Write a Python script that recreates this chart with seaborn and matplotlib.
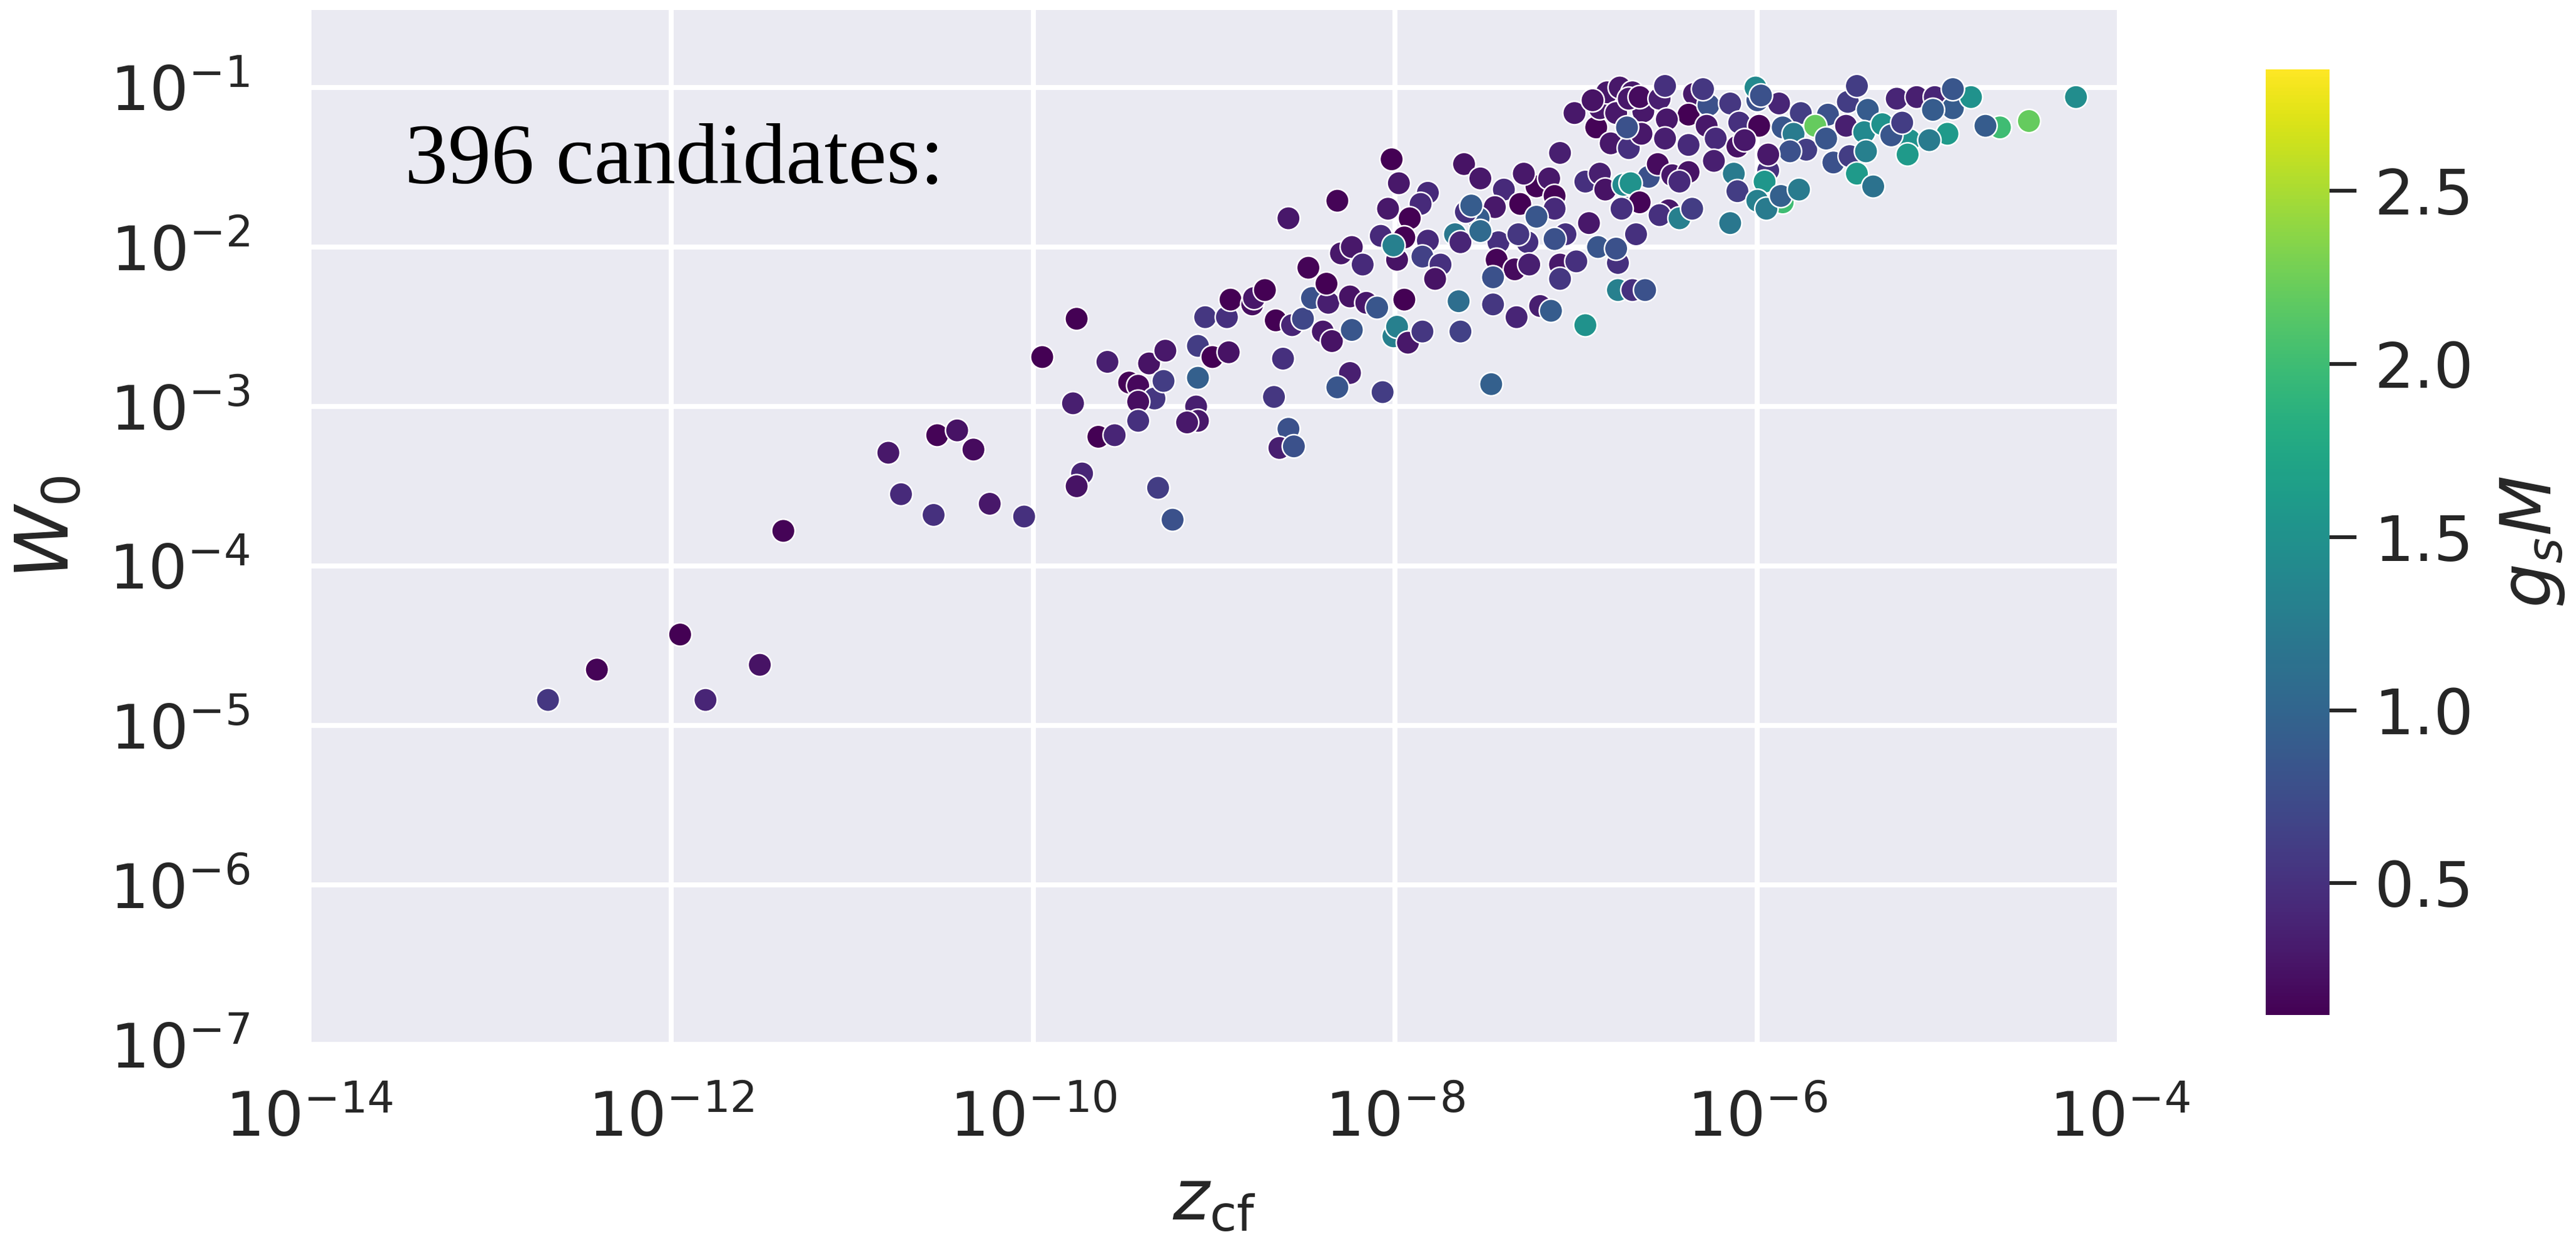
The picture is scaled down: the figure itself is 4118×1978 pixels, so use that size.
import numpy as np
import pandas as pd
import matplotlib
matplotlib.use("Agg")
import matplotlib.pyplot as plt
import seaborn as sns
from matplotlib.colors import Normalize
from matplotlib.cm import ScalarMappable
from matplotlib.ticker import NullLocator

# ---- data: log10(z_cf), log10(W0), g_s M ----
log_z = [
    -12.68, -12.41, -11.95, -11.81, -11.51, -11.38, -10.80, -10.53, -10.42, -10.33,
    -10.73, -10.55, -10.24, -10.05, -9.95, -9.76, -9.78, -9.73, -9.76, -9.59,
    -9.64, -9.55, -9.47, -9.42, -9.33, -9.42, -9.42, -9.36, -9.27, -9.28,
    -9.31, -9.23, -9.09, -9.01, -8.92, -9.09, -9.10, -9.09, -9.15, -9.05,
    -8.93, -8.67, -8.59, -8.62, -8.64, -8.56, -8.91, -8.79, -8.78, -8.72,
    -8.66, -8.57, -8.51, -8.46, -8.37, -8.38, -8.25, -8.16, -8.10, -7.95,
    -8.40, -8.35, -8.24, -8.01, -7.99, -7.93, -7.85, -8.25, -8.32, -8.07,
    -7.64, -7.65, -7.47, -7.46, -7.33, -7.20, -7.14, -6.95, -6.77, -8.59,
    -8.32, -8.02, -7.98, -8.04, -7.82, -7.86, -7.92, -7.95, -8.08, -8.30,
    -8.24, -8.18, -8.48, -7.99, -7.82, -7.85, -7.75, -7.78, -8.01, -7.62,
    -7.53, -7.40, -7.45, -7.54, -7.61, -7.67, -7.64, -7.31, -7.22, -7.15,
    -7.29, -7.12, -7.12, -7.22, -7.27, -7.43, -7.44, -7.34, -7.46, -7.26,
    -7.09, -7.09, -7.00, -7.06, -6.93, -6.88, -7.09, -7.01, -6.89, -6.87,
    -6.83, -6.81, -6.95, -6.87, -6.84, -6.77, -7.58, -7.53, -7.32, -7.12,
    -6.78, -6.74, -6.74, -6.76, -6.91, -6.69, -6.35, -6.63, -6.49,
    -6.71, -6.65, -6.54, -6.38, -6.27, -6.15, -6.00, -5.88, -5.76, -5.61,
    -5.50, -5.39, -6.71, -6.64, -6.72, -6.50, -6.51, -6.38, -6.28, -6.23,
    -6.10, -5.99, -6.11, -6.07, -5.94, -5.86, -5.80, -5.68, -5.73, -5.62,
    -5.51, -5.41, -5.58, -5.49, -5.40, -5.45, -5.36, -5.82, -5.94, -6.60,
    -6.55, -6.70, -6.47, -6.38, -6.43, -6.24, -6.13, -6.11, -5.96, -5.86,
    -6.00, -5.95, -5.87, -5.77, -6.65, -6.75, -6.54, -6.43, -6.36, -6.15,
    -6.67, -6.78, -6.69, -6.62, -5.16, -5.31, -4.66, -4.24, -4.50, -4.74,
    -4.95, -5.05, -5.17, -5.26, -5.20, -5.23, -5.12, -5.02, -4.92, -5.03,
    -4.82, -6.51, -6.30, -6.01, -5.98, -5.45, -4.92,
]
log_w = [
    -4.84, -4.65, -4.43, -4.84, -4.62, -3.78, -3.29, -3.18, -3.15, -3.27,
    -3.55, -3.68, -3.61, -3.69, -2.69, -2.45, -2.98, -3.42, -3.50, -2.72,
    -3.19, -3.18, -2.85, -2.87, -2.95, -2.97, -3.09, -2.73, -2.65, -2.84,
    -3.51, -3.71, -2.62, -2.69, -2.66, -2.82, -3.00, -3.09, -3.10, -2.44,
    -2.44, -2.94, -3.14, -2.70, -3.26, -3.25, -2.33, -2.36, -2.32, -2.27,
    -2.46, -2.49, -2.45, -2.32, -2.35, -2.23, -2.31, -2.35, -2.38, -2.33,
    -2.53, -2.59, -2.52, -2.56, -2.50, -2.60, -2.53, -2.79, -2.88, -2.91,
    -2.53, -2.34, -2.86, -2.36, -2.44, -2.37, -2.40, -2.49, -2.27, -1.82,
    -1.71, -1.45, -1.60, -1.76, -1.66, -1.73, -1.82, -1.94, -1.93, -2.04,
    -2.00, -2.11, -2.13, -2.08, -1.96, -2.06, -2.11, -2.20, -1.99, -1.48,
    -1.57, -1.64, -1.75, -1.82, -1.78, -1.92, -1.97, -1.73, -1.62, -1.57,
    -1.54, -1.68, -1.76, -1.81, -1.97, -1.97, -2.08, -2.14, -2.19, -2.11,
    -2.11, -2.20, -2.09, -1.92, -1.85, -2.00, -1.41, -1.16, -1.25, -1.13,
    -1.03, -1.35, -1.59, -1.54, -1.64, -2.10, -1.74, -1.90, -1.92, -1.95,
    -1.16, -1.75, -1.61, -1.00, -1.08, -1.03, -1.04, -1.15, -1.77,
    -1.07, -1.06, -1.07, -1.17, -1.11, -1.10, -1.08, -1.10, -1.16, -1.17,
    -1.09, -1.14, -1.38, -1.29, -1.25, -1.20, -1.32, -1.36, -1.24, -1.32,
    -1.22, -1.24, -1.37, -1.33, -1.52, -1.25, -1.29, -1.24, -1.39, -1.32,
    -1.24, -1.28, -1.47, -1.43, -1.40, -1.54, -1.62, -1.40, -1.42, -1.56,
    -1.48, -1.60, -1.55, -1.53, -1.59, -1.46, -1.54, -1.65, -1.59, -1.72,
    -1.71, -1.76, -1.68, -1.64, -1.72, -1.76, -1.80, -1.82, -1.76, -1.85,
    -1.92, -2.01, -2.27, -2.27, -1.33, -1.23, -1.25, -1.06, -1.21, -1.24,
    -1.29, -1.33, -1.42, -1.30, -1.22, -1.07, -1.06, -1.06, -1.13, -1.14,
    -1.06, -0.99, -1.01, -1.00, -1.05, -0.99, -1.01,
]
gsM = [
    0.55, 0.15, 0.12, 0.40, 0.25, 0.15, 0.30, 0.15, 0.25, 0.20,
    0.45, 0.50, 0.30, 0.50, 0.12, 0.12, 0.35, 0.40, 0.25, 0.35,
    0.12, 0.40, 0.15, 0.18, 0.55, 0.22, 0.50, 0.25, 0.30, 0.60,
    0.60, 0.80, 0.60, 0.12, 0.25, 0.95, 0.35, 0.30, 0.30, 0.55,
    0.50, 0.55, 0.80, 0.50, 0.35, 0.80, 0.12, 0.22, 0.30, 0.12,
    0.12, 0.40, 0.70, 0.80, 0.35, 0.12, 0.25, 0.30, 0.85, 0.12,
    0.30, 0.25, 0.85, 1.30, 1.30, 0.30, 0.55, 0.35, 0.85, 0.60,
    0.65, 1.10, 0.95, 0.55, 0.40, 0.35, 0.90, 1.50, 1.30, 0.30,
    0.15, 0.10, 0.30, 0.30, 0.45, 0.45, 0.12, 0.10, 0.45, 0.30,
    0.30, 0.45, 0.15, 0.25, 0.45, 0.65, 0.50, 0.25, 1.30, 0.25,
    0.30, 0.45, 0.30, 0.90, 0.50, 1.20, 0.40, 0.10, 0.15, 0.30,
    0.30, 0.15, 0.45, 0.85, 0.50, 0.50, 0.15, 0.20, 0.80, 0.35,
    0.30, 0.55, 0.50, 0.50, 0.30, 0.85, 0.35, 0.30, 0.15, 0.30,
    0.30, 0.30, 0.50, 0.35, 0.25, 0.50, 0.90, 1.05, 0.55, 0.80,
    0.30, 0.80, 1.40, 0.30, 0.25, 0.30, 0.30, 0.30, 0.30,
    0.30, 0.20, 0.35, 0.10, 0.80, 0.55, 0.80, 0.40, 0.60, 0.80,
    0.60, 0.90, 0.50, 0.30, 0.80, 0.30, 0.35, 0.45, 0.30, 0.45,
    0.50, 0.15, 0.25, 0.30, 0.50, 0.85, 1.25, 2.20, 0.60, 0.85,
    0.35, 1.40, 0.80, 0.60, 1.30, 1.60, 1.15, 0.80, 0.30, 0.80,
    0.20, 1.50, 0.30, 0.25, 0.45, 0.35, 1.25, 0.60, 1.55, 2.00,
    1.30, 1.25, 0.95, 1.25, 0.15, 0.50, 0.50, 1.30, 0.60, 1.20,
    0.50, 0.80, 0.50, 0.80, 1.50, 1.50, 2.00, 1.45, 2.20, 0.90,
    1.60, 1.25, 1.60, 0.85, 0.60, 0.40, 0.35, 0.40, 0.90, 0.90,
    1.50, 0.50, 0.55, 1.40, 0.80, 0.60, 0.85,
]
GSM_MIN, GSM_MAX = 0.12, 2.85
x_ticks = [1e-14, 1e-12, 1e-10, 1e-8, 1e-6, 1e-4]
y_ticks = [1e-7, 1e-6, 1e-5, 1e-4, 1e-3, 1e-2, 1e-1]
cbar_ticks = [0.5, 1.0, 1.5, 2.0, 2.5]
annotation = "396 candidates:"

df = pd.DataFrame({
    "z": 10.0 ** np.array(log_z),
    "W": 10.0 ** np.array(log_w),
    "gsM": gsM,
})

sns.set_theme(style="darkgrid")
plt.rcParams["font.family"] = ["DejaVu Sans"]

DPI = 72
fig = plt.figure(figsize=(4118 / DPI, 1978 / DPI), dpi=DPI)
ax = fig.add_axes([0.11996, 0.1557, 0.7028, 0.8362])
ax.set_xscale("log")
ax.set_yscale("log")

sns.scatterplot(
    data=df, x="z", y="W", hue="gsM", palette="viridis",
    hue_norm=(GSM_MIN, GSM_MAX), s=1400, edgecolor="white",
    linewidth=2.5, legend=False, ax=ax,
)

ax.set_xlim(1e-14, 1e-4)
ax.set_ylim(1e-7, 10 ** -0.514)
ax.set_xticks(x_ticks)
ax.set_yticks(y_ticks)
ax.xaxis.set_minor_locator(NullLocator())
ax.yaxis.set_minor_locator(NullLocator())
ax.grid(True, color="white", linewidth=8)
ax.tick_params(axis="both", which="major", labelsize=98, length=0)
ax.tick_params(axis="x", pad=72)
ax.tick_params(axis="y", pad=95)
for s in ax.spines.values():
    s.set_visible(False)

ax.set_xlabel(r"$z_{\rm cf}$", fontsize=112, labelpad=28)
ax.set_ylabel(r"$W_0$", fontsize=118, labelpad=40)

ax.text(0.0529, 0.8325, annotation, transform=ax.transAxes,
        fontsize=138, family=["Liberation Serif", "DejaVu Serif"],
        color="black", va="baseline", ha="left")

cax = fig.add_axes([0.8796, 0.1795, 0.02477, 0.7644])
sm = ScalarMappable(norm=Normalize(GSM_MIN, GSM_MAX), cmap="viridis")
cb = fig.colorbar(sm, cax=cax)
cb.set_ticks(cbar_ticks)
cb.outline.set_visible(False)
cb.ax.tick_params(length=43, width=6, color="#262626", labelsize=100, pad=28)
cb.set_label(r"$g_sM$", fontsize=112, labelpad=40)

fig.savefig("out.png", dpi=DPI)
